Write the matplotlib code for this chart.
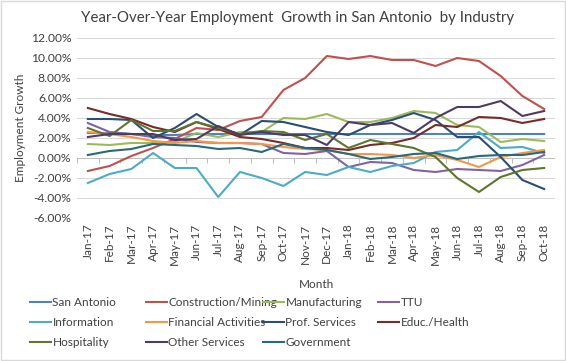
import matplotlib
matplotlib.use("Agg")
import matplotlib.pyplot as plt
from matplotlib.patches import Rectangle

plt.rcParams['font.family'] = ['Lato', 'DejaVu Sans']

months = ["Jan-17", "Feb-17", "Mar-17", "Apr-17", "May-17", "Jun-17", "Jul-17", "Aug-17",
          "Sep-17", "Oct-17", "Nov-17", "Dec-17", "Jan-18", "Feb-18", "Mar-18", "Apr-18",
          "May-18", "Jun-18", "Jul-18", "Aug-18", "Sep-18", "Oct-18"]

# year-over-year growth, percent
san_antonio = [2.5, 2.5, 2.4, 2.3, 2.3, 2.4, 2.4, 2.4, 2.4, 2.4, 2.4, 2.4,
               2.4, 2.4, 2.4, 2.4, 2.4, 2.4, 2.4, 2.4, 2.4, 2.4]
construction = [-1.3, -0.8, 0.2, 1.0, 1.9, 3.0, 2.8, 3.7, 4.1, 6.8, 8.0, 10.2,
                9.9, 10.2, 9.8, 9.8, 9.2, 10.0, 9.7, 8.2, 6.2, 4.9]
manufacturing = [1.4, 1.3, 1.5, 1.5, 1.6, 2.5, 2.1, 2.6, 2.6, 4.0, 3.9, 4.4,
                 3.6, 3.6, 4.0, 4.7, 4.5, 3.3, 3.1, 1.6, 1.9, 1.7]
ttu = [3.5, 2.6, 2.4, 2.1, 2.0, 1.6, 1.5, 1.5, 1.4, 0.5, 0.4, 0.7,
       -0.9, -0.4, -0.5, -1.2, -1.4, -1.1, -1.2, -1.3, -0.7, 0.3]
information = [-2.5, -1.6, -1.1, 0.5, -1.0, -1.0, -3.9, -1.4, -2.0, -2.8, -1.4, -1.7,
               -0.9, -1.4, -0.8, -0.5, 0.6, 0.8, 2.6, 1.0, 1.1, 0.5]
financial = [2.6, 2.4, 2.1, 1.7, 1.5, 1.7, 1.5, 1.5, 1.4, 1.1, 0.9, 0.8,
             0.4, 0.4, 0.3, 0.0, 0.3, -0.2, -0.9, 0.1, 0.5, 0.8]
prof_services = [3.9, 3.9, 3.8, 2.0, 3.0, 4.4, 3.1, 2.3, 3.7, 3.6, 3.1, 2.6,
                 2.3, 3.3, 3.8, 4.5, 3.8, 2.1, 2.1, 0.1, -2.2, -3.1]
educ_health = [5.0, 4.4, 3.9, 3.1, 2.6, 3.6, 2.9, 2.1, 1.9, 1.5, 1.0, 1.0,
               0.8, 1.3, 1.5, 2.0, 3.3, 3.1, 4.1, 4.0, 3.5, 3.9]
hospitality = [3.0, 2.2, 3.8, 2.7, 2.7, 3.6, 3.0, 2.4, 2.7, 2.6, 1.8, 2.4,
               1.0, 1.8, 1.4, 1.0, 0.1, -2.0, -3.4, -1.9, -1.2, -1.0]
other_services = [2.1, 2.4, 2.4, 2.4, 1.8, 1.9, 3.2, 2.3, 2.6, 2.3, 2.3, 1.3,
                  3.6, 3.3, 3.5, 2.5, 4.0, 5.1, 5.1, 5.7, 4.2, 4.7]
government = [0.3, 0.7, 0.9, 1.4, 1.3, 1.2, 0.9, 1.0, 0.6, 1.4, 1.0, 0.8,
              0.4, -0.1, 0.1, 0.4, 0.5, -0.1, 0.2, 0.3, 0.3, 0.6]

series = [
    ("San Antonio", san_antonio, "#4F81BD"),
    ("Construction/Mining", construction, "#C0504D"),
    ("Manufacturing", manufacturing, "#9BBB59"),
    ("TTU", ttu, "#8064A2"),
    ("Information", information, "#4BACC6"),
    ("Financial Activities", financial, "#F79646"),
    ("Prof. Services", prof_services, "#2C4D75"),
    ("Educ./Health", educ_health, "#772C2A"),
    ("Hospitality", hospitality, "#5F7530"),
    ("Other Services", other_services, "#4D3B62"),
    ("Government", government, "#276A7C"),
]

fig = plt.figure(figsize=(5.66, 3.61), dpi=100)
ax = fig.add_axes([77 / 566, 1 - 218 / 361, 478 / 566, 180 / 361])

x = list(range(len(months)))
handles = []
for name, vals, col in series:
    h, = ax.plot(x, vals, color=col, lw=1.5, label=name)
    handles.append(h)

ax.set_xlim(-0.5, len(months) - 0.5)
ax.set_ylim(-6, 12)
ax.set_yticks(range(-6, 13, 2))
ax.set_yticklabels([f"{v:.2f}%" for v in range(-6, 13, 2)], fontsize=8.7, color="#404040")
ax.set_xticks(x)
ax.set_xticklabels(months, rotation=90, fontsize=8.5, color="#404040")
ax.tick_params(length=0, pad=4)
ax.grid(axis="y", color="#D9D9D9", lw=0.75)
ax.set_axisbelow(True)
for s in ax.spines.values():
    s.set_visible(False)
ax.axhline(0, color="#BFBFBF", lw=0.75, zorder=1)
ax.vlines([i - 0.5 for i in range(len(months) + 1)], -0.5, 0, color="#BFBFBF", lw=0.75, zorder=1)

fig.text(0.525, 1 - 18 / 361, "Year-Over-Year Employment  Growth in San Antonio  by Industry",
         ha="center", va="center", fontsize=10.8, color="#404040")
fig.text(316 / 566, 1 - 284 / 361, "Month", ha="center", va="center", fontsize=8.5, color="#404040")
fig.text(21 / 566, 1 - 128 / 361, "Employment Growth", ha="center", va="center",
         rotation=90, fontsize=8.5, color="#404040")

# legend laid out like Excel, row by row in four columns
col_x = [30, 146, 263, 378]
for c in range(4):
    hs = handles[c::4]
    leg = fig.legend(hs, [h.get_label() for h in hs], loc="upper left",
                     bbox_to_anchor=(col_x[c] / 566, 1 - 297 / 361), frameon=False,
                     borderaxespad=0, borderpad=0, handlelength=1.8, handletextpad=0.1,
                     labelspacing=0.75, fontsize=8.5)
    for t in leg.get_texts():
        t.set_color("#404040")

fig.patches.append(Rectangle((0.002, 0.003), 0.996, 0.994, transform=fig.transFigure,
                             fill=False, ec="#D9D9D9", lw=1))

fig.savefig("out.png", dpi=100)
